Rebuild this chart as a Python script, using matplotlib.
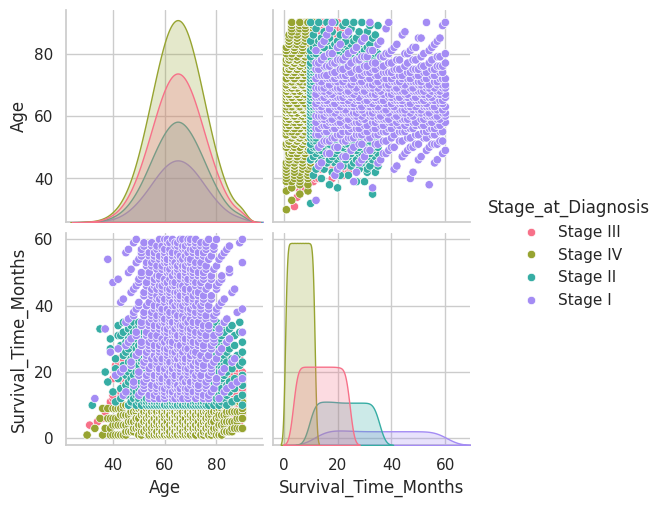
import numpy as np, pandas as pd, seaborn as sns, matplotlib
matplotlib.use("Agg")
import matplotlib.pyplot as plt
from statistics import NormalDist

sns.set_theme(style="whitegrid")

stages = ["Stage III", "Stage IV", "Stage II", "Stage I"]
counts = [1550, 2100, 1050, 650]
surv_min = [4, 1, 10, 12]
surv_max = [24, 11, 35, 60]
age_mean = 65
age_sd = 10
age_min, age_max = 30, 90

rows = []
nd = NormalDist(age_mean, age_sd)
for s, n, lo, hi in zip(stages, counts, surv_min, surv_max):
    p = (np.arange(n) + 0.5) / n
    ages = np.array([nd.inv_cdf(q) for q in p])
    ages = np.clip(np.round(ages), age_min, age_max)
    span = hi - lo + 1
    idx = (np.arange(n) * 7919) % n
    surv = lo + (idx % span)
    for a, t in zip(ages, surv):
        rows.append((a, float(t), s))
df = pd.DataFrame(rows, columns=["Age", "Survival_Time_Months", "Stage_at_Diagnosis"])

g = sns.pairplot(df, hue="Stage_at_Diagnosis", hue_order=stages, palette="husl")
g.figure.set_size_inches(6.61, 5.0)
g.figure.subplots_adjust(left=0.1, right=0.71, bottom=0.11, top=0.98, wspace=0.05, hspace=0.05)
g.axes[1, 0].set_xlim(22, 98)
g.axes[1, 0].set_xticks([40, 60, 80])
g.axes[0, 0].set_ylim(26, 94)
g.axes[0, 0].set_yticks([40, 60, 80])
g.axes[1, 1].set_xlim(-4, 69)
g.axes[1, 1].set_xticks([0, 20, 40, 60])
g.axes[1, 0].set_ylim(-2, 62)
g.axes[1, 0].set_yticks([0, 20, 40, 60])
g.savefig("out.png", dpi=100)
